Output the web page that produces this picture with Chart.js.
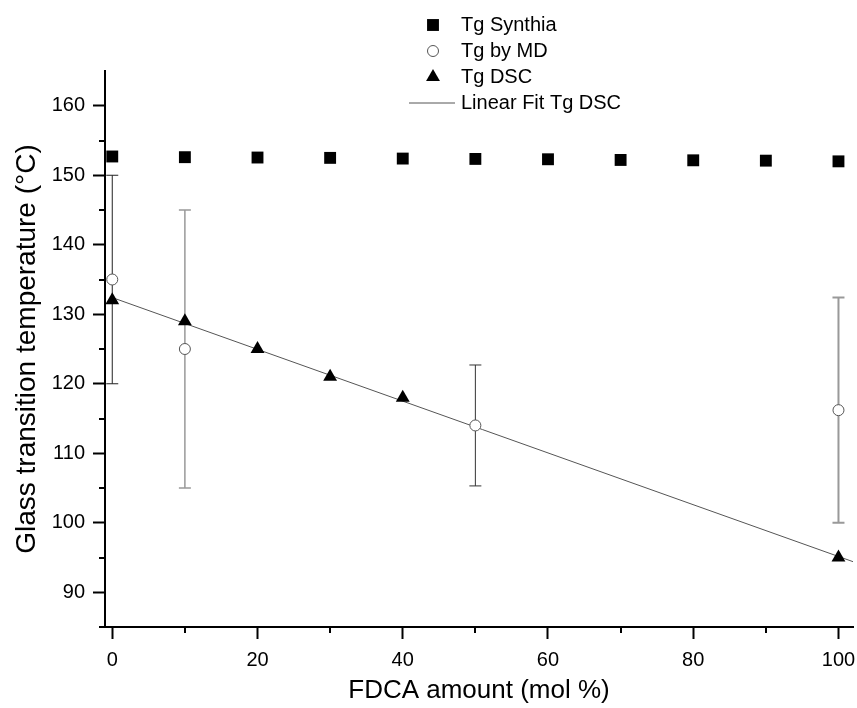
<!DOCTYPE html>
<html>
<head>
<meta charset="utf-8">
<script src="https://cdn.jsdelivr.net/npm/chart.js@4.4.0/dist/chart.umd.min.js"></script>
<style>
  html, body { margin: 0; padding: 0; background: #fff; }
  #wrap { width: 857px; height: 708px; }
</style>
</head>
<body>
<div id="wrap"><canvas id="tg-chart" width="857" height="708"></canvas></div>
<script>
// FDCA amount (mol %) and Tg values (°C)
var synthiaX = [0, 10, 20, 30, 40, 50, 60, 70, 80, 90, 100];
var synthiaTg = [152.7, 152.6, 152.55, 152.5, 152.4, 152.35, 152.3, 152.2, 152.15, 152.1, 152.0];

var mdX = [0, 10, 50, 100];
var mdTg = [135, 125, 114, 116.2];
var mdErr = [15, 20, 8.7, 16.2];

var dscX = [0, 10, 20, 30, 40, 100];
var dscTg = [132, 129, 125, 121, 118, 95];

// end points of the linear fit line drawn in the figure
var fitX = [0, 102];
var fitTg = [132.4, 94.4];

var xTicks = [0, 20, 40, 60, 80, 100];
var xMinorTicks = [10, 30, 50, 70, 90];
var yTicks = [90, 100, 110, 120, 130, 140, 150, 160];
var yMinorTicks = [95, 105, 115, 125, 135, 145, 155];

var FONT = 'Liberation Sans, Arial, sans-serif';

function pts(xs, ys) {
    return xs.map(function (x, i) { return { x: x, y: ys[i] }; });
}

// error bars for the MD points, drawn under the markers
var errorBars = {
    id: 'errorBars',
    beforeDatasetsDraw: function (chart, args, opts) {
        var ctx = chart.ctx, xs = chart.scales.x, ys = chart.scales.y;
        ctx.save();
        mdX.forEach(function (x, i) {
            var px = xs.getPixelForValue(x);
            var top = ys.getPixelForValue(mdTg[i] + mdErr[i]);
            var bot = ys.getPixelForValue(mdTg[i] - mdErr[i]);
            ctx.strokeStyle = opts.colors[i];
            ctx.lineWidth = opts.widths[i];
            ctx.beginPath();
            ctx.moveTo(px, top); ctx.lineTo(px, bot);
            ctx.moveTo(px - 6, top); ctx.lineTo(px + 6, top);
            ctx.moveTo(px - 6, bot); ctx.lineTo(px + 6, bot);
            ctx.stroke();
        });
        ctx.restore();
    }
};

// short minor ticks on both axes, plus the small overhang of the x axis
var minorTicks = {
    id: 'minorTicks',
    afterDraw: function (chart) {
        var ctx = chart.ctx, xs = chart.scales.x, ys = chart.scales.y;
        var area = chart.chartArea;
        ctx.save();
        ctx.strokeStyle = '#000';
        ctx.lineWidth = 2;
        ctx.beginPath();
        xMinorTicks.forEach(function (v) {
            var px = Math.round(xs.getPixelForValue(v));
            ctx.moveTo(px, area.bottom); ctx.lineTo(px, area.bottom + 6);
        });
        yMinorTicks.forEach(function (v) {
            var py = Math.round(ys.getPixelForValue(v));
            ctx.moveTo(area.left, py); ctx.lineTo(area.left - 6, py);
        });
        ctx.moveTo(area.left - 6, area.bottom); ctx.lineTo(area.left, area.bottom);
        ctx.stroke();
        ctx.restore();
    }
};

// stacked legend above the plot, like the original
var stackLegend = {
    id: 'stackLegend',
    afterDraw: function (chart) {
        var ctx = chart.ctx;
        var mx = 433, tx = 461, y0 = 25, dy = 26;
        ctx.save();
        ctx.font = '20px ' + FONT;
        ctx.textBaseline = 'middle';
        ctx.textAlign = 'left';
        chart.data.datasets.forEach(function (ds, i) {
            var y = y0 + i * dy;
            if (ds.showLine) {
                ctx.strokeStyle = ds.borderColor;
                ctx.lineWidth = ds.borderWidth;
                ctx.beginPath();
                ctx.moveTo(mx - 24, y); ctx.lineTo(mx + 22, y);
                ctx.stroke();
            } else {
                ctx.fillStyle = ds.backgroundColor;
                ctx.strokeStyle = ds.borderColor;
                Chart.helpers.drawPoint(ctx, {
                    pointStyle: ds.pointStyle,
                    radius: ds.pointRadius,
                    borderWidth: ds.borderWidth,
                    rotation: 0
                }, mx, y);
            }
            ctx.fillStyle = '#000';
            ctx.fillText(ds.label, tx, y);
        });
        ctx.restore();
    }
};

new Chart(document.getElementById('tg-chart'), {
    type: 'scatter',
    data: {
        datasets: [
            {
                label: 'Tg Synthia',
                data: pts(synthiaX, synthiaTg),
                pointStyle: 'rect',
                pointRadius: 8.4,
                backgroundColor: '#000',
                borderColor: '#000',
                borderWidth: 0
            },
            {
                label: 'Tg by MD',
                data: pts(mdX, mdTg),
                pointStyle: 'circle',
                pointRadius: 5.5,
                backgroundColor: '#fff',
                borderColor: '#555',
                borderWidth: 1
            },
            {
                label: 'Tg DSC',
                data: pts(dscX, dscTg),
                pointStyle: 'triangle',
                pointRadius: 8,
                backgroundColor: '#000',
                borderColor: '#000',
                borderWidth: 0
            },
            {
                label: 'Linear Fit Tg DSC',
                data: pts(fitX, fitTg),
                showLine: true,
                pointRadius: 0,
                borderColor: '#555',
                borderWidth: 1
            }
        ]
    },
    options: {
        responsive: false,
        animation: false,
        layout: { autoPadding: false, padding: { top: 71, right: 0, left: 0, bottom: 0 } },
        plugins: {
            legend: { display: false },
            tooltip: { enabled: false },
            errorBars: {
                colors: ['#222', '#999', '#333', '#999'],
                widths: [1, 1.5, 1, 2]
            }
        },
        scales: {
            x: {
                type: 'linear',
                min: -1,
                max: 102,
                afterBuildTicks: function (s) { s.ticks = xTicks.map(function (v) { return { value: v }; }); },
                afterFit: function (s) { s.height = 81; s.paddingLeft = 0; s.paddingRight = 4; },
                border: { display: true, color: '#000', width: 2 },
                grid: { drawOnChartArea: false, tickLength: 12, tickWidth: 2, tickColor: '#000' },
                ticks: { autoSkip: false, maxRotation: 0, padding: 9, color: '#000', font: { family: FONT, size: 20 } },
                title: {
                    display: true,
                    text: 'FDCA amount (mol %)',
                    color: '#000',
                    font: { family: FONT, size: 26 },
                    padding: { top: 0, bottom: 2 }
                }
            },
            y: {
                type: 'linear',
                min: 85,
                max: 165,
                afterBuildTicks: function (s) { s.ticks = yTicks.map(function (v) { return { value: v }; }); },
                afterFit: function (s) { s.width = 105; },
                border: { display: true, color: '#000', width: 2 },
                grid: { drawOnChartArea: false, tickLength: 12, tickWidth: 2, tickColor: '#000' },
                ticks: { autoSkip: false, padding: 8, color: '#000', font: { family: FONT, size: 20 } },
                title: {
                    display: true,
                    text: 'Glass transition temperature (°C)',
                    color: '#000',
                    font: { family: FONT, size: 28 },
                    padding: { top: 10, bottom: 0 }
                }
            }
        }
    },
    plugins: [errorBars, minorTicks, stackLegend]
});
</script>
</body>
</html>
